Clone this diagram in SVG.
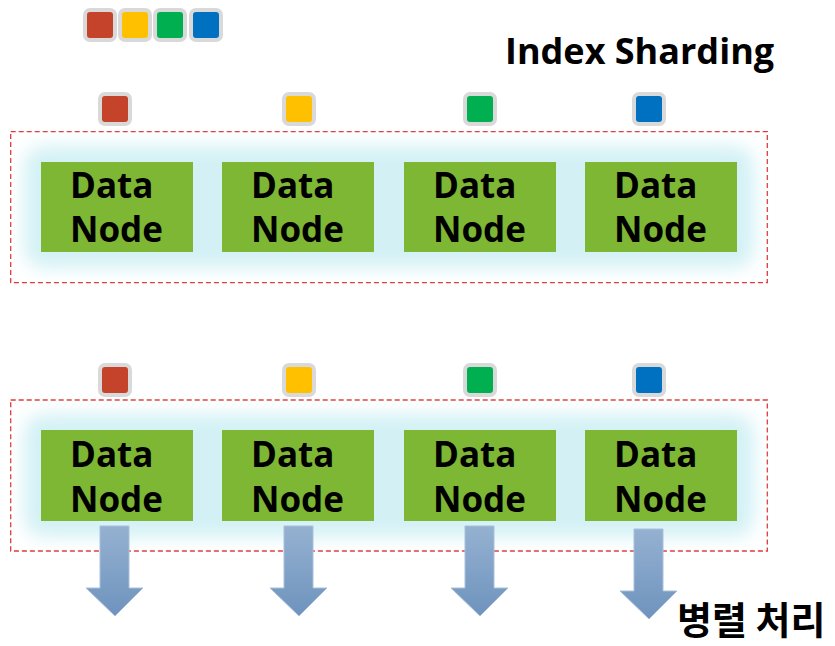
<svg xmlns="http://www.w3.org/2000/svg" width="835" height="646" viewBox="0 0 835 646">
  <defs>
    <filter id="glow" x="-30%" y="-40%" width="160%" height="180%">
      <feGaussianBlur stdDeviation="9"/>
    </filter>
    <linearGradient id="arrowGrad" x1="0" y1="0" x2="0" y2="1">
      <stop offset="0" stop-color="#95b1d1"/>
      <stop offset="1" stop-color="#6e93bd"/>
    </linearGradient>
    <style>
      .frame { fill: none; stroke: #e0383a; stroke-width: 1.3; stroke-dasharray: 5 3; }
      .glow { fill: #d3f1f5; filter: url(#glow); }
      .node { fill: #7db734; }
      .label { font-family: "Open Sans", "Noto Sans", "Noto Sans CJK KR", sans-serif; font-weight: bold; font-size: 35px; fill: #000; }
      .title { font-family: "Open Sans", "Noto Sans", "Noto Sans CJK KR", sans-serif; font-weight: bold; font-size: 36px; fill: #000; }
      .ko { font-family: "Noto Sans CJK KR", sans-serif; font-weight: bold; font-size: 38px; fill: #000; }
      .sq-out { fill: #d9d9d9; }
      .arrow { fill: url(#arrowGrad); stroke: #a9c0dc; stroke-width: 1; }
    </style>
  </defs>

  <rect width="835" height="646" fill="#ffffff"/>

  <!-- legend squares -->
  <g id="legend">
    <rect class="sq-out" x="83" y="8" width="34" height="34" rx="7"/>
    <rect x="87" y="12" width="26" height="26" rx="3" fill="#c5432a"/>
    <rect class="sq-out" x="118" y="8" width="34" height="34" rx="7"/>
    <rect x="122" y="12" width="26" height="26" rx="3" fill="#ffc000"/>
    <rect class="sq-out" x="153" y="8" width="34" height="34" rx="7"/>
    <rect x="157" y="12" width="26" height="26" rx="3" fill="#00b050"/>
    <rect class="sq-out" x="189" y="8" width="34" height="34" rx="7"/>
    <rect x="193" y="12" width="26" height="26" rx="3" fill="#0070c0"/>
  </g>

  <text id="title" class="title" x="505" y="64">Index Sharding</text>

  <!-- top cluster -->
  <g id="cluster-top">
    <rect class="frame" x="10.7" y="131.7" width="756.6" height="151"/>
    <rect class="glow" x="24" y="146" width="730" height="122" rx="20"/>
  </g>
  <g id="shards-top">
    <rect class="sq-out" x="98" y="92" width="34" height="34" rx="7"/>
    <rect x="102" y="96" width="26" height="26" rx="3" fill="#c5432a"/>
    <rect class="sq-out" x="282" y="92" width="34" height="34" rx="7"/>
    <rect x="286" y="96" width="26" height="26" rx="3" fill="#ffc000"/>
    <rect class="sq-out" x="463" y="92" width="34" height="34" rx="7"/>
    <rect x="467" y="96" width="26" height="26" rx="3" fill="#00b050"/>
    <rect class="sq-out" x="632" y="92" width="34" height="34" rx="7"/>
    <rect x="636" y="96" width="26" height="26" rx="3" fill="#0070c0"/>
  </g>
  <g id="node-t1">
    <rect class="node" x="41" y="162" width="152" height="90"/>
    <text class="label" x="70" y="198">Data</text>
    <text class="label" x="70" y="242">Node</text>
  </g>
  <g id="node-t2">
    <rect class="node" x="222" y="162" width="152" height="90"/>
    <text class="label" x="251" y="198">Data</text>
    <text class="label" x="251" y="242">Node</text>
  </g>
  <g id="node-t3">
    <rect class="node" x="404" y="162" width="152" height="90"/>
    <text class="label" x="433" y="198">Data</text>
    <text class="label" x="433" y="242">Node</text>
  </g>
  <g id="node-t4">
    <rect class="node" x="585" y="162" width="152" height="90"/>
    <text class="label" x="614" y="198">Data</text>
    <text class="label" x="614" y="242">Node</text>
  </g>

  <!-- bottom cluster -->
  <g id="cluster-bottom">
    <rect class="frame" x="10.7" y="400" width="756.6" height="151"/>
    <rect class="glow" x="24" y="414" width="730" height="123" rx="20"/>
  </g>
  <g id="shards-bottom">
    <rect class="sq-out" x="98" y="363" width="34" height="34" rx="7"/>
    <rect x="102" y="367" width="26" height="26" rx="3" fill="#c5432a"/>
    <rect class="sq-out" x="282" y="363" width="34" height="34" rx="7"/>
    <rect x="286" y="367" width="26" height="26" rx="3" fill="#ffc000"/>
    <rect class="sq-out" x="463" y="363" width="34" height="34" rx="7"/>
    <rect x="467" y="367" width="26" height="26" rx="3" fill="#00b050"/>
    <rect class="sq-out" x="632" y="363" width="34" height="34" rx="7"/>
    <rect x="636" y="367" width="26" height="26" rx="3" fill="#0070c0"/>
  </g>
  <g id="node-b1">
    <rect class="node" x="41" y="430" width="152" height="91"/>
    <text class="label" x="70" y="466.5">Data</text>
    <text class="label" x="70" y="511.5">Node</text>
  </g>
  <g id="node-b2">
    <rect class="node" x="222" y="430" width="152" height="91"/>
    <text class="label" x="251" y="466.5">Data</text>
    <text class="label" x="251" y="511.5">Node</text>
  </g>
  <g id="node-b3">
    <rect class="node" x="404" y="430" width="152" height="91"/>
    <text class="label" x="433" y="466.5">Data</text>
    <text class="label" x="433" y="511.5">Node</text>
  </g>
  <g id="node-b4">
    <rect class="node" x="585" y="430" width="152" height="91"/>
    <text class="label" x="614" y="466.5">Data</text>
    <text class="label" x="614" y="511.5">Node</text>
  </g>

  <!-- arrows -->
  <g id="connectors">
    <path class="arrow" d="M100,526 H129 V588 H143 L115,616 L86,588 H100 Z"/>
    <path class="arrow" d="M284,526 H313 V588 H327 L299,616 L270,588 H284 Z"/>
    <path class="arrow" d="M465,526 H494 V588 H508 L480,616 L451,588 H465 Z"/>
    <path class="arrow" d="M634,529 H663 V591 H677 L649,619 L620,591 H634 Z"/>
  </g>

  <text id="caption" class="ko" x="677" y="634">병렬 처리</text>
</svg>
